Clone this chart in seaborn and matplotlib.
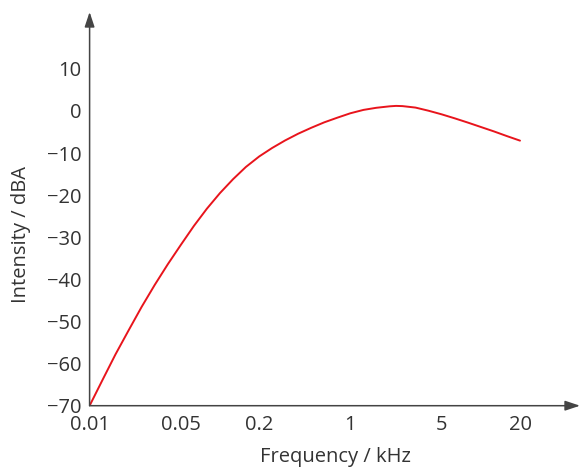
import pandas as pd
import matplotlib
matplotlib.use("Agg")
import matplotlib.pyplot as plt
import matplotlib.ticker as mticker
import seaborn as sns

# values (frequency in kHz, level in dBA)
freq_khz = [0.01, 0.0126, 0.0158, 0.02, 0.0251, 0.0316, 0.0398, 0.0501, 0.0631,
            0.0794, 0.1, 0.126, 0.158, 0.2, 0.251, 0.316, 0.398, 0.501, 0.631,
            0.794, 1.0, 1.26, 1.58, 2.0, 2.24, 2.51, 3.16, 3.98, 5.01, 6.31,
            7.94, 10.0, 12.6, 15.8, 20.0]
level_dba = [-70.0, -63.8, -57.8, -52.0, -46.5, -41.3, -36.4, -31.8, -27.3,
             -23.2, -19.5, -16.2, -13.3, -10.8, -8.8, -7.0, -5.4, -4.0, -2.7,
             -1.6, -0.55, 0.25, 0.75, 1.1, 1.2, 1.15, 0.8, 0.05, -0.8, -1.75,
             -2.75, -3.8, -4.85, -5.95, -7.05]

x_ticks = [0.01, 0.05, 0.2, 1, 5, 20]
x_ticklabels = ["0.01", "0.05", "0.2", "1", "5", "20"]
y_ticks = [-70, -60, -50, -40, -30, -20, -10, 0, 10]

df = pd.DataFrame({"freq": freq_khz, "level": level_dba})

sns.set_style("white")
plt.rcParams["font.family"] = ["Open Sans", "DejaVu Sans"]
plt.rcParams["text.color"] = "#333333"

axis_col = "#444444"

fig = plt.figure(figsize=(5.81, 4.70), dpi=100)
ax = fig.add_axes([89.6 / 581, (470 - 405.7) / 470, 490.4 / 581, 393.7 / 470])

sns.lineplot(data=df, x="freq", y="level", color="#e8141c", lw=1.4, ax=ax)

ax.set_xscale("log")
ax.set_xlim(0.01, 57.7)
ax.set_ylim(-70, 23.5)

ax.xaxis.set_major_locator(mticker.FixedLocator(x_ticks))
ax.xaxis.set_major_formatter(mticker.FixedFormatter(x_ticklabels))
ax.xaxis.set_minor_locator(mticker.NullLocator())
ax.set_yticks(y_ticks)

ax.tick_params(axis="both", direction="in", length=6.7, width=1, colors=axis_col,
               labelsize=14.5, labelcolor="#333333")
ax.tick_params(axis="x", pad=7)
ax.tick_params(axis="y", pad=6)

for s in ax.spines.values():
    s.set_visible(False)

# axes drawn as arrows
arrow = dict(arrowstyle="-|>,head_length=0.9,head_width=0.3", color=axis_col,
             lw=1.1, shrinkA=0, shrinkB=0)
ax.annotate("", xy=(1, 0), xytext=(0, 0), xycoords="axes fraction", arrowprops=arrow)
ax.annotate("", xy=(0, 1), xytext=(0, 0), xycoords="axes fraction", arrowprops=arrow)

ax.set_xlabel("Frequency / kHz", fontsize=14.5, color="#333333")
ax.set_ylabel("Intensity / dBA", fontsize=14.5, color="#333333")
ax.xaxis.set_label_coords(0.502, -0.13)
ax.xaxis.label.set_va("center")
ax.yaxis.set_label_coords(-0.14, 0.434)
ax.yaxis.label.set_va("center")

fig.savefig("out.png", dpi=100)
